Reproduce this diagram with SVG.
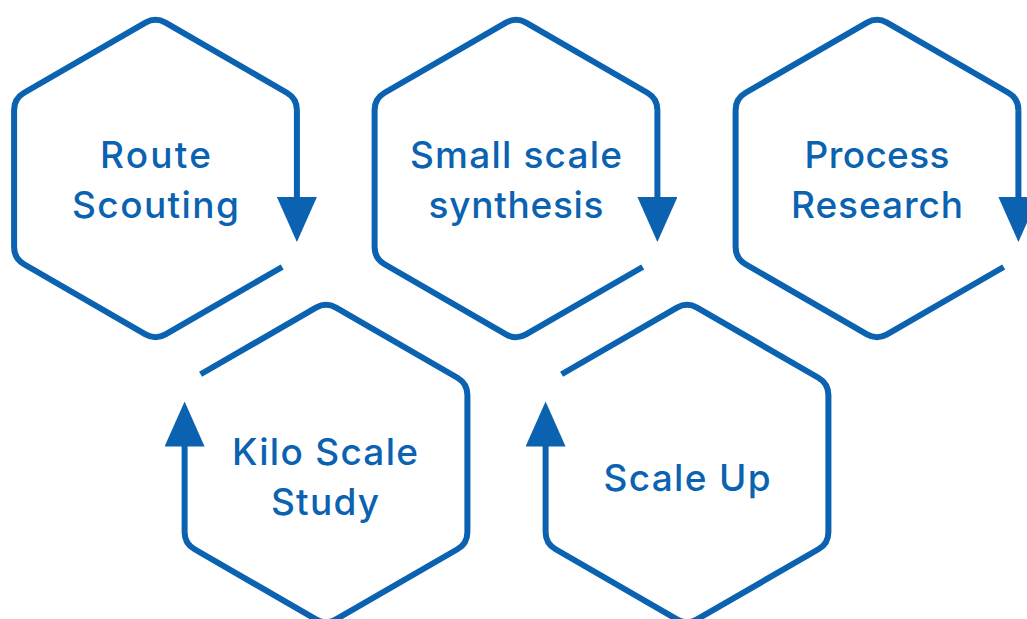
<svg xmlns="http://www.w3.org/2000/svg" width="1027" height="619" viewBox="0 0 1027 619">
  <style>
    .hex { fill: none; stroke: #0B62B0; stroke-width: 6; stroke-linecap: butt; stroke-linejoin: round; }
    .conn { fill: none; stroke: #0B62B0; stroke-width: 6; stroke-linecap: butt; }
    .lbl { font-family: Inter, Lato, "Noto Sans", sans-serif; font-size: 37px; font-weight: 500; fill: #0B62B0; text-anchor: middle; }
  </style>
  <defs>
    <marker id="arrow" markerUnits="userSpaceOnUse" viewBox="0 -20 45 40" markerWidth="45" markerHeight="40" refX="3" refY="0" orient="auto">
      <path d="M0,-20 L45,0 L0,20 Z" fill="#0B62B0"/>
    </marker>
    <path id="hexTop" d="M126.7 88.5 L10 155.83 A20 20 0 0 1 -10 155.83 L-131.4 85.77 A20 20 0 0 1 -141.4 68.45 L-141.4 -68.45 A20 20 0 0 1 -131.4 -85.77 L-10 -155.83 A20 20 0 0 1 10 -155.83 L131.4 -85.77 A20 20 0 0 1 141.4 -68.45"/>
    <path id="hexBottom" d="M-125.4 -89.25 L-10 -155.83 A20 20 0 0 1 10 -155.83 L131.4 -85.77 A20 20 0 0 1 141.4 -68.45 L141.4 68.45 A20 20 0 0 1 131.4 85.77 L10 155.83 A20 20 0 0 1 -10 155.83 L-131.4 85.77 A20 20 0 0 1 -141.4 68.45"/>
  </defs>
  <rect width="1027" height="619" fill="#FFFFFF"/>

  <g id="route-scouting" transform="translate(155.5,178.5)">
    <use href="#hexTop" class="hex"/>
    <text class="lbl" x="0" y="-10.5" textLength="111" lengthAdjust="spacing">Route</text>
    <text class="lbl" x="0" y="39.5" textLength="167" lengthAdjust="spacing">Scouting</text>
  </g>

  <g id="small-scale-synthesis" transform="translate(516,178.5)">
    <use href="#hexTop" class="hex"/>
    <text class="lbl" x="0" y="-10.5" textLength="212" lengthAdjust="spacing">Small scale</text>
    <text class="lbl" x="0" y="39.5" textLength="175" lengthAdjust="spacing">synthesis</text>
  </g>

  <g id="process-research" transform="translate(877,178.5)">
    <use href="#hexTop" class="hex"/>
    <text class="lbl" x="0" y="-10.5" textLength="145" lengthAdjust="spacing">Process</text>
    <text class="lbl" x="0" y="39.5" textLength="172" lengthAdjust="spacing">Research</text>
  </g>

  <g id="kilo-scale-study" transform="translate(326,463.5)">
    <use href="#hexBottom" class="hex"/>
    <text class="lbl" x="-1" y="1.5" textLength="186" lengthAdjust="spacing">Kilo Scale</text>
    <text class="lbl" x="-1" y="51" textLength="108" lengthAdjust="spacing">Study</text>
  </g>

  <g id="scale-up" transform="translate(687,463.5)">
    <use href="#hexBottom" class="hex"/>
    <text class="lbl" x="0" y="27" textLength="167" lengthAdjust="spacing">Scale Up</text>
  </g>

  <g id="connectors">
    <line class="conn" x1="296.9" y1="110.05" x2="296.9" y2="200" marker-end="url(#arrow)"/>
    <line class="conn" x1="657.4" y1="110.05" x2="657.4" y2="200" marker-end="url(#arrow)"/>
    <line class="conn" x1="1018.4" y1="110.05" x2="1018.4" y2="200" marker-end="url(#arrow)"/>
    <line class="conn" x1="184.6" y1="531.95" x2="184.6" y2="443.5" marker-end="url(#arrow)"/>
    <line class="conn" x1="545.6" y1="531.95" x2="545.6" y2="443.5" marker-end="url(#arrow)"/>
  </g>
</svg>
